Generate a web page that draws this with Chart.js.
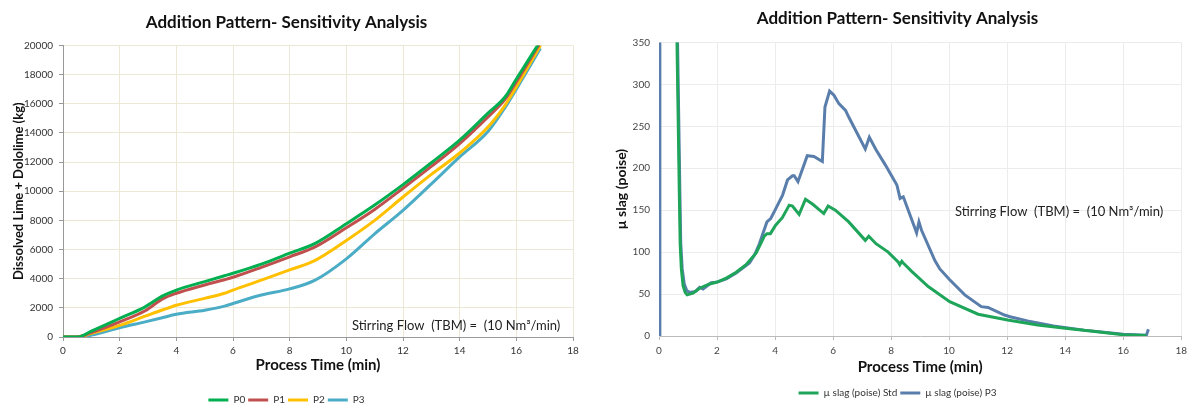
<!DOCTYPE html>
<html>
<head>
<meta charset="utf-8">
<script src="https://cdn.jsdelivr.net/npm/chart.js@4.4.1/dist/chart.umd.min.js"></script>
<style>
  html, body { margin: 0; padding: 0; background: #fff; overflow: hidden; }
  #wrap { position: relative; width: 1192px; height: 406px; }
  #leftChart { position: absolute; left: 0; top: 0; }
  #rightChart { position: absolute; left: 610px; top: 0; }
</style>
</head>
<body>
<div id="wrap">
  <canvas id="leftChart" width="586" height="406"></canvas>
  <canvas id="rightChart" width="582" height="406"></canvas>
</div>
<script>
// LEFT CHART DATA - dissolved lime + dololime (kg) vs process time (min)
const leftTime = [0, 0.5, 1, 2, 2.9, 3.5, 4, 5, 5.7, 6, 7, 8, 8.9, 10, 11, 12, 13, 14, 15, 15.6, 16, 16.85];
const massP0 = [0, 0, 400, 1270, 2070, 2800, 3220, 3800, 4200, 4370, 5000, 5750, 6420, 7770, 9050, 10450, 11950, 13500, 15350, 16460, 17700, 20300];
const massP1 = [0, 0, 300, 1040, 1800, 2600, 3000, 3570, 3930, 4100, 4780, 5500, 6180, 7490, 8750, 10200, 11700, 13270, 15100, 16300, 17500, 20200];
const massP2 = [0, 0, 250, 800, 1430, 1850, 2180, 2650, 3000, 3220, 3900, 4600, 5260, 6620, 8000, 9600, 11150, 12620, 14400, 15890, 17150, 20000];
const massP3 = [0, 0, 130, 640, 1040, 1320, 1560, 1840, 2120, 2300, 2880, 3300, 3900, 5360, 7080, 8690, 10500, 12350, 14100, 15730, 17000, 19800];
const leftNames = ["P0", "P1", "P2", "P3"];
const leftColors = ["#00b050", "#c0504d", "#ffc000", "#4bacc6"];

// RIGHT CHART DATA - slag viscosity (poise) vs process time (min)
const stdTime = [0.55, 0.62, 0.66, 0.7, 0.73, 0.77, 0.83, 0.9, 0.97, 1.17, 1.4, 1.74, 1.98, 2.32, 2.66, 3.0, 3.35, 3.52, 3.63, 3.72, 3.84, 4.02, 4.25, 4.49, 4.6, 4.83, 5.05, 5.3, 5.68, 5.83, 6.08, 6.54, 7.11, 7.23, 7.48, 7.9, 8.25, 8.3, 8.37, 8.42, 8.71, 9.28, 10.02, 11.0, 12.02, 13.05, 14.08, 15.1, 16.0, 16.8];
const stdVisc = [600, 350, 260, 170, 110, 80, 60, 52, 49, 51, 57, 62, 64, 69, 76, 85, 99, 111, 119, 122, 122, 132, 141, 156, 155, 145, 163, 157, 146, 155, 150, 136, 114, 119, 110, 100, 88, 85, 89, 87, 77, 59, 41, 26, 19, 13, 9, 5, 1.5, 0.5];
const p3Time = [0.03, 0.03, 0.6, 0.64, 0.68, 0.72, 0.75, 0.8, 0.87, 0.96, 1.06, 1.25, 1.4, 1.52, 1.8, 1.98, 2.32, 2.66, 3.0, 3.12, 3.3, 3.46, 3.72, 3.85, 3.97, 4.26, 4.43, 4.6, 4.66, 4.79, 5.11, 5.34, 5.63, 5.72, 5.88, 6.03, 6.2, 6.43, 6.54, 7.11, 7.25, 7.48, 7.8, 8.2, 8.31, 8.42, 8.88, 8.96, 9.05, 9.51, 9.68, 10.02, 10.54, 11.11, 11.34, 11.91, 12.1, 12.7, 13.6, 14.65, 16.0, 16.8, 16.87];
const p3Visc = [0, 2000, 420, 350, 260, 170, 110, 80, 62, 54, 52, 53, 58, 56, 63.5, 64, 68, 75, 84, 87, 97, 110, 136, 140, 148, 168, 186, 191, 191, 184, 215, 214, 208, 273, 292, 287, 277, 269, 261, 223, 237, 222, 204, 180, 164, 166, 123, 136, 126, 90, 80, 67, 49, 35, 34, 25, 23, 18, 12, 7, 2, 1, 8];
const rightNames = ["\u00b5 slag (poise) Std", "\u00b5 slag (poise) P3"];
const rightColors = ["#1fa55a", "#5a7eab"];

// TEXTS
const chartTitle = "Addition Pattern- Sensitivity Analysis";
const xTitle = "Process Time (min)";
const noteText = "Stirring Flow  (TBM) =  (10 Nm\u00b3/min)";

Chart.defaults.font.family = "Lato, 'Open Sans', sans-serif";
Chart.defaults.color = "#333";
Chart.defaults.animation = false;

// small plugin to write the stirring flow note at a data position
const notePlugin = {
  id: "stirNote",
  afterDatasetsDraw(chart, args, opts) {
    const px = chart.scales.x.getPixelForValue(opts.x);
    const py = chart.scales.y.getPixelForValue(opts.y);
    const ctx = chart.ctx;
    ctx.save();
    ctx.font = "13px Lato, sans-serif";
    ctx.fillStyle = "#222";
    ctx.textBaseline = "middle";
    ctx.fillText(opts.text, px, py);
    ctx.restore();
  }
};

function toPoints(xs, ys) {
  return xs.map((x, i) => ({ x: x, y: ys[i] }));
}

function legendOpts(size) {
  return {
    position: "bottom",
    labels: {
      usePointStyle: true,
      pointStyle: "line",
      pointStyleWidth: 20,
      padding: 3,
      color: "#333",
      font: { size: size }
    }
  };
}

// LEFT CHART
function leftChart() {
  const series = [massP0, massP1, massP2, massP3];
  new Chart(document.getElementById("leftChart"), {
    type: "line",
    data: {
      datasets: series.map((s, i) => ({
        label: leftNames[i],
        data: toPoints(leftTime, s),
        borderColor: leftColors[i],
        backgroundColor: leftColors[i],
        borderWidth: 3,
        pointRadius: 0,
        cubicInterpolationMode: "monotone"
      }))
    },
    options: {
      responsive: false,
      devicePixelRatio: 1,
      layout: { padding: { left: 0, right: 13, top: 0, bottom: -9 } },
      plugins: {
        title: {
          display: true, text: chartTitle, color: "#111",
          font: { size: 17, weight: "bold" }, padding: { top: 12, bottom: 13 }
        },
        legend: legendOpts(10),
        tooltip: { enabled: false },
        stirNote: { text: noteText, x: 10.2, y: 800 }
      },
      scales: {
        x: {
          type: "linear", min: 0, max: 18,
          ticks: { stepSize: 2, padding: 4, maxRotation: 0, font: { size: 10 } },
          grid: { color: "#ebe8d6", tickLength: 4, tickColor: "#999" },
          border: { color: "#999" },
          title: { display: true, text: xTitle, color: "#111", font: { size: 15, weight: "bold" }, padding: { top: 0, bottom: 18 } },
          afterFit(s) { s.height = 55; }
        },
        y: {
          min: 0, max: 20000,
          ticks: { stepSize: 2000, padding: 6, font: { size: 10 }, callback: (v) => String(v) },
          grid: { color: "#ebe8d6", tickLength: 4, tickColor: "#999" },
          border: { color: "#999" },
          title: { display: true, text: "Dissolved Lime + Dololime (kg)", color: "#111", font: { size: 13, weight: "bold" }, padding: { top: 11, bottom: 0 } },
          afterFit(s) { s.width = 63; }
        }
      }
    },
    plugins: [notePlugin]
  });
}

// RIGHT CHART
function rightChart() {
  new Chart(document.getElementById("rightChart"), {
    type: "line",
    data: {
      datasets: [
        {
          label: rightNames[0],
          data: toPoints(stdTime, stdVisc),
          borderColor: rightColors[0],
          backgroundColor: rightColors[0],
          borderWidth: 3,
          pointRadius: 0,
          tension: 0
        },
        {
          label: rightNames[1],
          data: toPoints(p3Time, p3Visc),
          borderColor: rightColors[1],
          backgroundColor: rightColors[1],
          borderWidth: 3,
          pointRadius: 0,
          tension: 0
        }
      ]
    },
    options: {
      responsive: false,
      devicePixelRatio: 1,
      layout: { padding: { left: 0, right: 7, top: 0, bottom: -2 } },
      plugins: {
        title: {
          display: true, text: chartTitle, color: "#111",
          font: { size: 17, weight: "bold" }, padding: { top: 8, bottom: 14 }
        },
        legend: legendOpts(10),
        tooltip: { enabled: false },
        stirNote: { text: noteText, x: 10.2, y: 148 }
      },
      scales: {
        x: {
          type: "linear", min: 0, max: 18,
          ticks: { stepSize: 2, padding: 5, maxRotation: 0, color: "#444", font: { size: 10 } },
          grid: { color: "#ececec", tickLength: 4, tickColor: "#bbb" },
          border: { color: "#bbb" },
          title: { display: true, text: xTitle, color: "#111", font: { size: 15, weight: "bold" }, padding: { top: 0, bottom: 9 } },
          afterFit(s) { s.height = 49; }
        },
        y: {
          min: 0, max: 350,
          ticks: { stepSize: 50, padding: 9, color: "#444", font: { size: 10 } },
          grid: { color: "#ececec", drawTicks: false },
          border: { color: "#ddd" },
          title: { display: true, text: "\u00b5 slag (poise)", color: "#111", font: { size: 14, weight: "bold" }, padding: { top: 3, bottom: 0 } },
          afterFit(s) { s.width = 49; }
        }
      }
    },
    plugins: [notePlugin]
  });
}

window.onload = function () {
  leftChart();
  rightChart();
};
</script>
</body>
</html>
